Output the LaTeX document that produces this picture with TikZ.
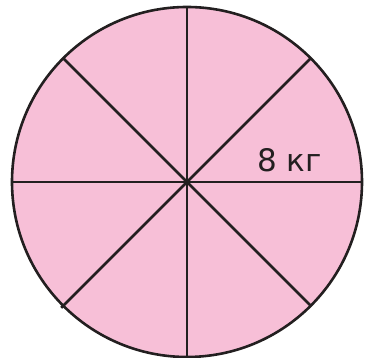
\documentclass[tikz,border=0pt]{standalone}
\usepackage{fontspec}
\setmainfont{DejaVu Sans}
\definecolor{piefill}{RGB}{247,191,215}
\definecolor{pieline}{RGB}{35,31,32}
\begin{document}
\begin{tikzpicture}[x=1pt,y=1pt,
  rim/.style={draw=pieline,line width=2.6pt,fill=piefill},
  cut/.style={draw=pieline,line width=2.6pt},
  lbl/.style={font=\fontsize{31}{31}\selectfont,text=pieline,inner sep=0pt,anchor=base}]
\useasboundingbox (0,0) rectangle (368,-358);
\coordinate (c) at (187,-182);
\draw[rim] (c) circle (175);
\draw[cut] (c) ++(90:175) -- (c) -- ++(270:175);
\draw[cut] (c) ++(180:175) -- (c) -- ++(0:175);
\draw[cut] (c) ++(135:175) -- (c) -- ++(-45:175);
\draw[cut] (c) ++(45:175) -- (c) -- ++(225:178);
\node[lbl] (t) at (289.5,-172) {8 кг};
\end{tikzpicture}
\end{document}
